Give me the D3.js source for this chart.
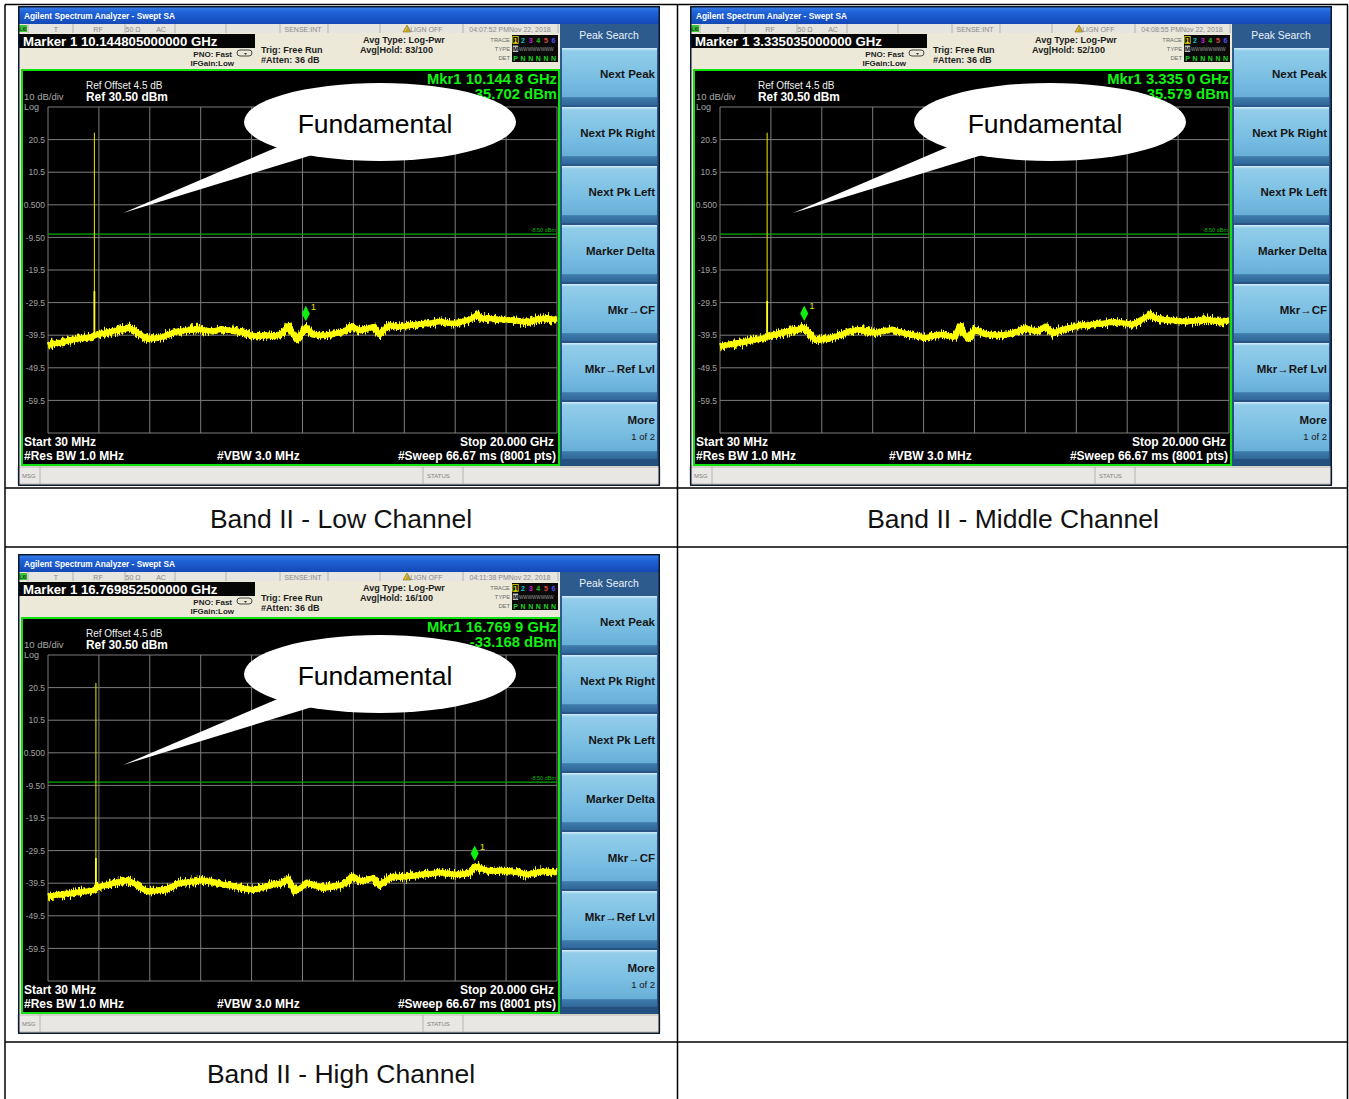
<!DOCTYPE html>
<html>
<head>
<meta charset="utf-8">
<script src="https://cdn.jsdelivr.net/npm/d3@7"></script>
<style>
  html, body { margin: 0; padding: 0; background: #ffffff; }
  svg { display: block; }
</style>
</head>
<body>
<svg id="chart" width="1349" height="1099"></svg>
<script>
// ---------- analyzer settings ----------
const freqStart = 0.03;   // GHz
const freqStop = 20.0;    // GHz
const refLevel = 30.5;    // dBm
const dbPerDiv = 10;
const displayLine = -8.5; // dBm

const yTickValues = [20.5, 10.5, 0.5, -9.5, -19.5, -29.5, -39.5, -49.5, -59.5];
const yTickLabels = ["20.5", "10.5", "0.500", "-9.50", "-19.5", "-29.5", "-39.5", "-49.5", "-59.5"];

const softkeys = ["Next Peak", "Next Pk Right", "Next Pk Left", "Marker Delta", "Mkr\u2192CF", "Mkr\u2192Ref Lvl", "More"];

// ---------- per-channel values ----------
const captions = ["Band II - Low Channel", "Band II - Middle Channel", "Band II - High Channel"];
const markerHeaders = ["Marker 1 10.144805000000 GHz", "Marker 1 3.335035000000 GHz", "Marker 1 16.769852500000 GHz"];
const markerReadFreq = ["Mkr1 10.144 8 GHz", "Mkr1 3.335 0 GHz", "Mkr1 16.769 9 GHz"];
const markerFreqs = [10.144805, 3.335035, 16.7698525];   // GHz
const markerLevels = [-35.702, -35.579, -33.168];        // dBm
const timestamps = ["04:07:52 PMNov 22, 2018", "04:08:55 PMNov 22, 2018", "04:11:38 PMNov 22, 2018"];
const avgHold = ["83/100", "52/100", "16/100"];

const fundamentalFreqs = [1.8507, 1.88, 1.9093];  // GHz
const fundamentalPeaks = [22.6, 22.6, 21.9];      // dBm
const fundamentalKnees = [-26.0, -29.0, -31.8];   // dBm
const fundamentalBases = [-40.0, -40.3, -41.6];   // dBm

// averaged noise floor, [GHz, dBm]
const traceLow = [
  [0.03,-42.6],[0.25,-42.1],[0.5,-41.8],[0.75,-41.3],[1.0,-40.9],[1.25,-40.6],[1.5,-40.3],[1.75,-40.0],
  [2.0,-39.2],[2.25,-38.9],[2.5,-38.4],[2.75,-38.0],[3.0,-37.6],[3.2,-37.2],[3.45,-38.2],[3.7,-39.6],
  [3.95,-40.6],[4.25,-40.4],[4.5,-40.1],[4.75,-39.3],[5.0,-38.6],[5.3,-38.2],[5.6,-37.8],[5.9,-37.6],
  [6.2,-38.0],[6.5,-38.3],[6.8,-37.7],[7.1,-37.9],[7.4,-38.3],[7.7,-38.7],[8.0,-39.5],[8.3,-39.8],
  [8.6,-39.5],[8.9,-39.9],[9.2,-39.0],[9.45,-36.7],[9.62,-38.9],[9.8,-40.9],[10.0,-38.8],[10.15,-37.1],
  [10.4,-39.2],[10.75,-39.6],[11.0,-39.4],[11.3,-39.0],[11.6,-38.5],[11.95,-36.8],[12.25,-38.0],[12.5,-37.6],
  [12.78,-36.9],[13.05,-39.3],[13.25,-37.5],[13.45,-36.4],[13.75,-36.9],[14.1,-36.7],[14.4,-36.3],[14.75,-36.1],
  [15.1,-35.7],[15.4,-35.3],[15.75,-35.8],[16.05,-35.8],[16.35,-35.2],[16.6,-34.6],[16.86,-33.2],[17.05,-34.4],
  [17.3,-34.3],[17.6,-34.6],[18.0,-34.8],[18.3,-35.0],[18.65,-35.4],[19.0,-35.2],[19.3,-34.5],[19.6,-34.3],
  [19.85,-34.6],[20.0,-34.5]
];
const traceMid = [
  [0.03,-42.9],[0.4,-42.4],[0.88,-41.7],[1.3,-41.0],[1.8,-40.3],[2.06,-39.6],[2.4,-38.9],[2.7,-38.3],
  [3.0,-37.9],[3.33,-37.3],[3.5,-38.6],[3.76,-40.9],[4.0,-40.8],[4.27,-40.6],[4.55,-39.9],[4.8,-39.3],
  [5.1,-38.4],[5.44,-37.8],[5.8,-38.3],[6.11,-38.8],[6.45,-38.2],[6.77,-37.8],[7.05,-38.4],[7.29,-39.0],
  [7.7,-39.6],[8.07,-40.3],[8.4,-39.7],[8.73,-39.3],[9.0,-39.7],[9.25,-40.0],[9.45,-36.8],[9.6,-39.0],
  [9.76,-40.6],[10.03,-37.8],[10.3,-38.8],[10.54,-39.3],[10.9,-39.5],[11.33,-39.3],[11.7,-38.4],[12.0,-37.3],
  [12.25,-37.9],[12.51,-38.3],[12.78,-36.8],[13.09,-39.0],[13.3,-38.2],[13.57,-37.6],[13.9,-37.0],[14.22,-36.5],
  [14.6,-36.3],[15.0,-35.9],[15.3,-35.6],[15.53,-35.5],[15.9,-35.8],[16.2,-36.2],[16.45,-35.4],[16.7,-34.1],
  [16.9,-33.2],[17.1,-34.2],[17.36,-34.7],[17.8,-35.0],[18.1,-35.2],[18.39,-35.3],[18.7,-35.1],[19.06,-34.7],
  [19.4,-35.0],[19.7,-35.2],[20.0,-35.0]
];
const traceHigh = [
  [0.03,-43.5],[0.5,-43.0],[1.01,-42.5],[1.5,-42.0],[1.8,-41.7],[1.99,-40.7],[2.4,-39.9],[2.74,-39.2],
  [3.17,-38.6],[3.4,-39.5],[3.64,-40.7],[3.91,-42.0],[4.3,-41.8],[4.7,-41.3],[5.0,-40.2],[5.21,-39.4],
  [5.6,-39.1],[6.11,-38.6],[6.5,-39.2],[6.9,-39.9],[7.3,-40.4],[7.7,-41.0],[8.07,-41.5],[8.45,-40.8],
  [8.86,-39.9],[9.2,-39.5],[9.45,-38.2],[9.72,-42.0],[10.0,-40.6],[10.19,-39.4],[10.5,-40.2],[10.82,-40.9],
  [11.15,-40.5],[11.49,-40.2],[11.75,-39.2],[11.96,-37.4],[12.2,-38.4],[12.39,-38.9],[12.6,-38.3],[12.78,-37.9],
  [13.05,-40.2],[13.3,-38.6],[13.56,-37.4],[13.85,-37.7],[14.11,-37.4],[14.45,-37.1],[14.74,-36.8],[15.1,-36.5],
  [15.41,-36.2],[15.75,-36.6],[16.07,-36.8],[16.35,-36.6],[16.58,-36.3],[16.78,-34.3],[17.06,-35.1],[17.37,-35.8],
  [17.7,-35.6],[18.04,-35.8],[18.45,-36.2],[18.82,-36.8],[19.15,-36.3],[19.45,-35.8],[19.7,-36.0],[20.0,-36.2]
];
const traces = [traceLow, traceMid, traceHigh];

// ---------- page layout ----------
const panelX = [18, 690, 18];
const panelY = [6, 6, 554];
const calloutX = [380, 1050, 380];
const calloutY = [122, 122, 674];
const captionX = [341, 1013, 341];
const captionY = [528, 528, 1083];

const FONT = "'Liberation Sans', Arial, Helvetica, sans-serif";
const svg = d3.select("#chart").attr("font-family", FONT);
const defs = svg.append("defs");

function vGrad(id, stops) {
  const lg = defs.append("linearGradient").attr("id", id)
    .attr("x1", 0).attr("y1", 0).attr("x2", 0).attr("y2", 1);
  stops.forEach(([o, c]) => lg.append("stop").attr("offset", o).attr("stop-color", c));
}
vGrad("titleGrad", [["0%", "#3d83ec"], ["35%", "#1f63d8"], ["100%", "#1548b6"]]);
vGrad("keyGrad", [["0%", "#d6eefa"], ["5%", "#92cdea"], ["50%", "#7bbfe3"], ["86%", "#68afd8"], ["87%", "#3f7cae"], ["100%", "#2f6798"]]);
vGrad("panelGrad", [["0%", "#2d5b8e"], ["100%", "#24507f"]]);

// jagged edge for the noisy sweep
const fuzz = defs.append("filter").attr("id", "fuzz")
  .attr("filterUnits", "userSpaceOnUse").attr("x", 0).attr("y", 0).attr("width", 642).attr("height", 480)
  .attr("color-interpolation-filters", "sRGB");
fuzz.append("feTurbulence").attr("type", "fractalNoise").attr("baseFrequency", "0.8 0.08")
  .attr("numOctaves", 2).attr("seed", 4).attr("result", "n");
fuzz.append("feColorMatrix").attr("in", "n").attr("type", "matrix")
  .attr("values", "0 0 0 0 0.5  0 1 0 0 0  0 0 0 0 0  0 0 0 0 1").attr("result", "d");
fuzz.append("feDisplacementMap").attr("in", "SourceGraphic").attr("in2", "d")
  .attr("scale", 11).attr("xChannelSelector", "R").attr("yChannelSelector", "G");

function txt(g, x, y, s, o = {}) {
  return g.append("text").attr("x", x).attr("y", y).text(s)
    .attr("font-size", o.size || 8)
    .attr("font-weight", o.bold ? "bold" : "normal")
    .attr("fill", o.fill || "#000")
    .attr("text-anchor", o.anchor || "start");
}

// ---------- table ----------
const table = svg.append("g").attr("stroke", "#000").attr("stroke-width", 1.5);
[[5, 4.5, 1348, 4.5], [5, 488, 1348, 488], [5, 547, 1348, 547], [5, 1042, 1348, 1042],
 [5, 4.5, 5, 1099], [677.5, 4.5, 677.5, 1099], [1347.5, 4.5, 1347.5, 1099]]
  .forEach(([a, b, c, d]) => table.append("line").attr("x1", a).attr("y1", b).attr("x2", c).attr("y2", d));

captions.forEach((c, i) => txt(svg, captionX[i], captionY[i], c, { size: 26.5, anchor: "middle", fill: "#111" }));

// ---------- one analyzer screen ----------
function drawScreen(i) {
  const g = svg.append("g").attr("transform", `translate(${panelX[i]},${panelY[i]})`);

  g.append("rect").attr("width", 642).attr("height", 480).attr("fill", "#ece9d8");

  // title bar
  g.append("rect").attr("width", 642).attr("height", 18).attr("fill", "url(#titleGrad)");
  txt(g, 6, 12.5, "Agilent Spectrum Analyzer - Swept SA", { size: 8.3, bold: true, fill: "#ffffff" });

  // status strip
  g.append("rect").attr("x", 0).attr("y", 18).attr("width", 542).attr("height", 9).attr("fill", "#e7e5df");
  [10, 55, 107, 157, 208, 262, 310, 362, 445, 540].forEach(x =>
    g.append("line").attr("x1", x).attr("x2", x).attr("y1", 18).attr("y2", 27).attr("stroke", "#a8a69e").attr("stroke-width", 0.8));
  g.append("rect").attr("x", 1).attr("y", 19).attr("width", 8).attr("height", 7).attr("fill", "#3cc43c");
  txt(g, 5, 25, "LXI", { size: 4.5, bold: true, anchor: "middle", fill: "#0a3a0a" });
  const st = { size: 7, anchor: "middle", fill: "#8c8a86" };
  txt(g, 38, 25.5, "T", st);
  txt(g, 80, 25.5, "RF", st);
  txt(g, 115, 25.5, "50 \u03A9", st);
  txt(g, 143, 25.5, "AC", st);
  txt(g, 285, 25.5, "SENSE:INT", st);
  g.append("path").attr("d", "M385,26 L389,19 L393,26 Z").attr("fill", "#e8c000").attr("stroke", "#6a5a00").attr("stroke-width", 0.5);
  txt(g, 406, 25.5, "ALIGN OFF", st);
  txt(g, 492, 25.5, timestamps[i], st);

  // marker frequency box
  g.append("rect").attr("x", 0).attr("y", 28).attr("width", 237).attr("height", 14).attr("fill", "#050505");
  txt(g, 5, 40, markerHeaders[i], { size: 13.2, bold: true, fill: "#ffffff" });

  // acquisition settings
  const info = { size: 8, bold: true, fill: "#1e1e1e" };
  txt(g, 214, 50.5, "PNO: Fast", { ...info, anchor: "end" });
  txt(g, 216, 60, "IFGain:Low", { ...info, anchor: "end" });
  g.append("rect").attr("x", 219).attr("y", 44).attr("width", 15).attr("height", 6).attr("rx", 3)
    .attr("fill", "none").attr("stroke", "#333").attr("stroke-width", 0.9);
  g.append("path").attr("d", "M226,47 L229,47 L227.5,49 Z").attr("fill", "#333");
  txt(g, 243, 47, "Trig: Free Run", { ...info, size: 9.1 });
  txt(g, 243, 57, "#Atten: 36 dB", { ...info, size: 9.1 });
  txt(g, 345, 36.5, "Avg Type: Log-Pwr", { ...info, size: 9.1 });
  txt(g, 342, 46.5, "Avg|Hold: " + avgHold[i], { ...info, size: 9.1 });

  const lab = { size: 5.8, anchor: "end", fill: "#6a6a6a" };
  txt(g, 492, 35.5, "TRACE", lab);
  txt(g, 492, 44.5, "TYPE", lab);
  txt(g, 492, 54, "DET", lab);
  g.append("rect").attr("x", 494).attr("y", 29).attr("width", 46).attr("height", 27).attr("fill", "#0a0a0a");
  const tx = [497.5, 505, 512.7, 520.3, 528, 535.5];
  const tc = ["#e8e000", "#00c8d0", "#d020d0", "#20c020", "#e04848", "#5050ff"];
  g.append("rect").attr("x", 494.8).attr("y", 30.5).attr("width", 5.4).attr("height", 7).attr("fill", "none")
    .attr("stroke", "#e8e000").attr("stroke-width", 0.8);
  tx.forEach((x, k) => txt(g, x, 36.5, String(k + 1), { size: 7, bold: true, anchor: "middle", fill: tc[k] }));
  g.append("rect").attr("x", 494.8).attr("y", 39.5).attr("width", 5.4).attr("height", 6.5).attr("fill", "#bdbdbd");
  txt(g, 497.5, 45.3, "M", { size: 6, bold: true, anchor: "middle", fill: "#111" });
  txt(g, 501, 45, "WWWWWWWW", { size: 4.6, fill: "#9a9a9a" });
  ["P", "N", "N", "N", "N", "N"].forEach((s, k) => txt(g, tx[k], 54.5, s, { size: 7, bold: true, anchor: "middle", fill: "#20d020" }));

  // display area
  g.append("rect").attr("x", 4).attr("y", 64).attr("width", 537).attr("height", 395)
    .attr("fill", "#000").attr("stroke", "#10e010").attr("stroke-width", 2);

  const x = d3.scaleLinear().domain([freqStart, freqStop]).range([30, 539]);
  const y = d3.scaleLinear().domain([refLevel, refLevel - 10 * dbPerDiv]).range([101, 427]);

  const grid = g.append("g").attr("stroke", "#7d7d7d").attr("stroke-width", 1);
  d3.range(11).forEach(k => {
    const f = freqStart + k * (freqStop - freqStart) / 10;
    grid.append("line").attr("x1", x(f)).attr("x2", x(f)).attr("y1", y.range()[0]).attr("y2", y.range()[1]);
    const lv = refLevel - k * dbPerDiv;
    grid.append("line").attr("x1", x.range()[0]).attr("x2", x.range()[1]).attr("y1", y(lv)).attr("y2", y(lv));
  });

  const axis = d3.axisLeft(y).tickValues(yTickValues).tickFormat((d, k) => yTickLabels[k]).tickSize(0).tickPadding(3);
  const ax = g.append("g").attr("transform", `translate(${x.range()[0]},0)`).call(axis);
  ax.select(".domain").remove();
  ax.selectAll("text").attr("fill", "#a2a2a2").attr("font-size", 8.5).attr("font-family", FONT);

  // display line
  g.append("line").attr("x1", x.range()[0]).attr("x2", x.range()[1])
    .attr("y1", y(displayLine)).attr("y2", y(displayLine)).attr("stroke", "#00a800").attr("stroke-width", 1.2);
  txt(g, 538, y(displayLine) - 2, displayLine.toFixed(2) + " dBm", { size: 5.5, anchor: "end", fill: "#00b800" });

  // annotations inside the display
  txt(g, 6, 93.5, "10 dB/div", { size: 9.5, fill: "#a8a8a8" });
  txt(g, 6, 104, "Log", { size: 9, fill: "#a8a8a8" });
  txt(g, 68, 83, "Ref Offset 4.5 dB", { size: 10, fill: "#f0f0f0" });
  txt(g, 68, 95, "Ref " + refLevel.toFixed(2) + " dBm", { size: 11.9, bold: true, fill: "#ffffff" });
  txt(g, 539, 78, markerReadFreq[i], { size: 14.8, bold: true, anchor: "end", fill: "#12f012" });
  txt(g, 539, 93, markerLevels[i].toFixed(3) + " dBm", { size: 14.8, bold: true, anchor: "end", fill: "#12f012" });

  const bottom = { size: 12, bold: true, fill: "#ffffff" };
  txt(g, 6, 440, "Start 30 MHz", bottom);
  txt(g, 536, 440, "Stop 20.000 GHz", { ...bottom, anchor: "end" });
  txt(g, 6, 454, "#Res BW 1.0 MHz", bottom);
  txt(g, 199, 454, "#VBW 3.0 MHz", bottom);
  txt(g, 538, 454, "#Sweep  66.67 ms (8001 pts)", { ...bottom, anchor: "end" });

  // sweep trace: solid core plus a jagged overlay
  const line = d3.line().x(d => x(d[0])).y(d => y(d[1]));
  g.append("path").datum(traces[i]).attr("d", line)
    .attr("fill", "none").attr("stroke", "#f4f400").attr("stroke-width", 5.5)
    .attr("stroke-linejoin", "round");
  g.append("path").datum(traces[i]).attr("d", line)
    .attr("fill", "none").attr("stroke", "#ffff00").attr("stroke-width", 6.5)
    .attr("stroke-linejoin", "round").attr("filter", "url(#fuzz)");

  // fundamental carrier
  const fx = x(fundamentalFreqs[i]);
  g.append("line").attr("x1", fx).attr("x2", fx).attr("y1", y(fundamentalPeaks[i])).attr("y2", y(fundamentalBases[i]))
    .attr("stroke", "#d8d400").attr("stroke-width", 1.1);
  g.append("line").attr("x1", fx).attr("x2", fx).attr("y1", y(fundamentalKnees[i])).attr("y2", y(fundamentalBases[i]))
    .attr("stroke", "#ffff20").attr("stroke-width", 1.8);

  // marker 1
  const mx = x(markerFreqs[i]), my = y(markerLevels[i]);
  g.append("path").attr("d", `M${mx},${my - 1.5} L${mx + 4},${my - 9} L${mx},${my - 17} L${mx - 4},${my - 9} Z`)
    .attr("fill", "#10f010");
  txt(g, mx + 5, my - 13, "1", { size: 9.5, fill: "#e8e000" });

  // softkey menu
  g.append("rect").attr("x", 542).attr("y", 18).attr("width", 99).attr("height", 442).attr("fill", "url(#panelGrad)");
  txt(g, 591, 33, "Peak Search", { size: 10.4, anchor: "middle", fill: "#eaf2fa" });
  softkeys.forEach((s, k) => {
    const top = 42 + k * 59;
    g.append("rect").attr("x", 544).attr("y", top).attr("width", 95).attr("height", 57).attr("fill", "url(#keyGrad)");
    if (s === "More") {
      txt(g, 637, top + 22, s, { size: 11.5, bold: true, anchor: "end", fill: "#151515" });
      txt(g, 637, top + 38, "1 of 2", { size: 9.5, anchor: "end", fill: "#151515" });
    } else {
      txt(g, 637, top + 30, s, { size: 11.5, bold: true, anchor: "end", fill: "#151515" });
    }
  });

  // message bar
  g.append("rect").attr("x", 0).attr("y", 461).attr("width", 642).attr("height", 17).attr("fill", "#e9e7e3")
    .attr("stroke", "#9a9a9a").attr("stroke-width", 0.6);
  [22, 405, 445].forEach(xx => g.append("line").attr("x1", xx).attr("x2", xx).attr("y1", 461).attr("y2", 478)
    .attr("stroke", "#a0a0a0").attr("stroke-width", 0.7));
  txt(g, 4, 471.5, "MSG", { size: 6, fill: "#808080" });
  txt(g, 409, 471.5, "STATUS", { size: 6, fill: "#808080" });

  // frame
  g.append("rect").attr("x", 0.75).attr("y", 0.75).attr("width", 640.5).attr("height", 478.5)
    .attr("fill", "none").attr("stroke", "#0c1830").attr("stroke-width", 1.5);
}

[0, 1, 2].forEach(drawScreen);

// ---------- "Fundamental" callouts ----------
calloutX.forEach((cx, i) => {
  const cy = calloutY[i];
  const c = svg.append("g");
  c.append("path")
    .attr("d", `M${cx - 100},${cy + 24} L${cx - 257},${cy + 91} L${cx - 58},${cy + 30} Z`)
    .attr("fill", "#ffffff");
  c.append("ellipse").attr("cx", cx).attr("cy", cy).attr("rx", 136).attr("ry", 39).attr("fill", "#ffffff");
  txt(c, cx - 5, cy + 11, "Fundamental", { size: 26.5, anchor: "middle", fill: "#000" });
});
</script>
</body>
</html>
